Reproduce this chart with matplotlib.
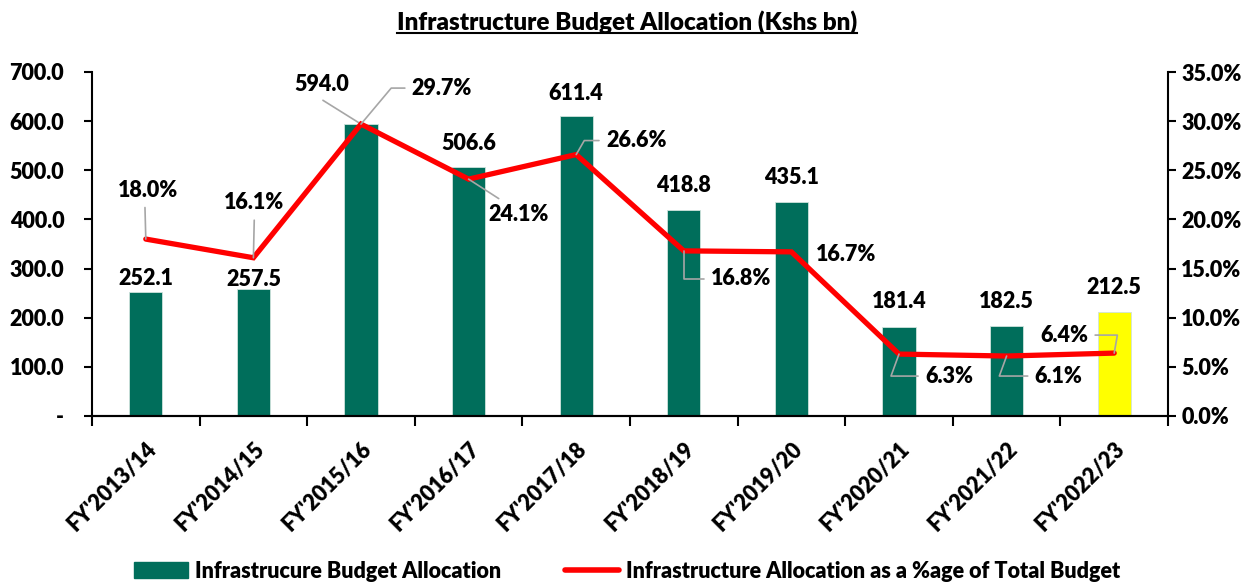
import matplotlib
matplotlib.use("Agg")
import matplotlib.pyplot as plt
from matplotlib.patches import Patch
from matplotlib.lines import Line2D
from matplotlib.ticker import FuncFormatter, MultipleLocator
import numpy as np

plt.rcParams['font.family'] = ['Lato', 'DejaVu Sans']
W = 'heavy'
plt.rcParams['font.weight'] = W

categories = ["FY'2013/14", "FY'2014/15", "FY'2015/16", "FY'2016/17", "FY'2017/18",
              "FY'2018/19", "FY'2019/20", "FY'2020/21", "FY'2021/22", "FY'2022/23"]
allocation = [252.1, 257.5, 594.0, 506.6, 611.4, 418.8, 435.1, 181.4, 182.5, 212.5]
share_pct = [18.0, 16.1, 29.7, 24.1, 26.6, 16.8, 16.7, 6.3, 6.1, 6.4]

GREEN = '#006E5B'
YELLOW = '#FFFF00'
RED = '#FF0000'
GREY = '#A6A6A6'
FS = 15.5

fig = plt.figure(figsize=(12.54, 5.82), dpi=100)
ax = fig.add_axes([92/1254, 1-416/582, (1168-92)/1254, (416-72)/582])
ax2 = ax.twinx()

x = np.arange(len(categories))
colors = [GREEN]*(len(categories)-1) + [YELLOW]
bars = ax.bar(x, allocation, width=0.31, color=colors, edgecolor='#CFE3DD', linewidth=0.6, zorder=2)
ax.set_xlim(-0.5, len(categories)-0.5)
ax.set_ylim(0, 700)
ax.yaxis.set_major_locator(MultipleLocator(100))
ax.yaxis.set_major_formatter(FuncFormatter(lambda v, p: '-' if v == 0 else f'{v:.1f}'))

ax2.set_ylim(0, 35)
ax2.yaxis.set_major_locator(MultipleLocator(5))
ax2.yaxis.set_major_formatter(FuncFormatter(lambda v, p: f'{v:.1f}%'))
ax2.plot(x, share_pct, color=RED, lw=3.8, solid_capstyle='round', solid_joinstyle='miter', zorder=3)

for a in (ax, ax2):
    a.spines['top'].set_visible(False)
    for s in ('left', 'right', 'bottom'):
        a.spines[s].set_linewidth(1.5)
        a.spines[s].set_color('black')
    a.tick_params(axis='y', labelsize=FS, width=1.5, length=6, direction='out')
ax.tick_params(axis='y', pad=14)
ax.spines['right'].set_visible(False)
ax2.spines['left'].set_visible(False)

ax.set_xticks(x)
ax.set_xticklabels(categories, rotation=45, ha='right', rotation_mode='anchor', fontsize=FS, fontweight=W)
ax.tick_params(axis='x', which='major', length=0, pad=16)
ax.set_xticks(np.arange(-0.5, len(categories), 1), minor=True)
ax.tick_params(axis='x', which='minor', length=7, width=1.5, direction='out')
for lab in ax.get_yticklabels() + ax2.get_yticklabels():
    lab.set_fontweight(W)

# bar value labels (dx, dy offsets in pixels from bar top)
bar_offsets = [(0, 14), (0, 10), (-39, 40), (0, 24), (0, 22), (0, 25), (0, 25), (0, 25), (0, 25), (0, 24)]
for i, (v, (dx, dy)) in enumerate(zip(allocation, bar_offsets)):
    if i == 2:
        ax.annotate(f'{v:.1f}', xy=(i, v), xytext=(dx, dy), textcoords='offset pixels',
                    ha='center', va='center', fontsize=FS, fontweight=W,
                    arrowprops=dict(arrowstyle='-', color=GREY, lw=1.2, shrinkA=4, shrinkB=0,
                                    relpos=(0.35, 0.0)))
    else:
        ax.annotate(f'{v:.1f}', xy=(i, v), xytext=(dx, dy), textcoords='offset pixels',
                    ha='center', va='center', fontsize=FS, fontweight=W)

# percentage labels with leader lines
pct_offsets = [(2, 49), (1, 55), (81, 36), (50, -35), (60, 14), (57, -28), (55, -3), (50, -22), (52, -20), (-50, 18)]
relpos = [(0.45, 0.0), (0.5, 0.0), (0.0, 0.5), (0.3, 1.0), (0.0, 0.5), (0.0, 0.5), None, (0.0, 0.5), (0.0, 0.5), (1.0, 0.5)]
conn = ['arc3', 'arc3', 'angle,angleA=0,angleB=50,rad=0', 'arc3', 'angle,angleA=0,angleB=60,rad=0',
        'angle,angleA=0,angleB=90,rad=0', 'arc3', 'angle,angleA=0,angleB=70,rad=0',
        'angle,angleA=0,angleB=70,rad=0', 'angle,angleA=180,angleB=80,rad=0']
for i, (v, (dx, dy)) in enumerate(zip(share_pct, pct_offsets)):
    kw = {}
    if relpos[i] is not None:
        kw['arrowprops'] = dict(arrowstyle='-', color=GREY, lw=1.2, shrinkA=3, shrinkB=0,
                                relpos=relpos[i], connectionstyle=conn[i])
    ax2.annotate(f'{v:.1f}%', xy=(i, v), xytext=(dx, dy), textcoords='offset pixels',
                 ha='center', va='center', fontsize=FS, fontweight=W, zorder=5, **kw)

# title with underline
title = fig.text(0.5, 1-22/582, 'Infrastructure Budget Allocation (Kshs bn)', ha='center', va='center',
                 fontsize=17.5, fontweight=W)
fig.canvas.draw()
bb = title.get_window_extent().transformed(fig.transFigure.inverted())
fig.add_artist(Line2D([bb.x0, bb.x1], [bb.y0 + 0.002, bb.y0 + 0.002], color='black', lw=1.5,
                      transform=fig.transFigure))

handles = [Patch(facecolor=GREEN, edgecolor=GREEN),
           Line2D([0], [0], color=RED, lw=4, solid_capstyle='round')]
labels = ['Infrastrucure Budget Allocation', 'Infrastructure Allocation as a %age of Total Budget']
leg = fig.legend(handles, labels, loc='center', bbox_to_anchor=(0.5, 1-571/582), ncol=2, frameon=False,
                 prop={'size': FS, 'weight': W}, columnspacing=3.0, handlelength=2.5,
                 handletextpad=0.3, borderaxespad=0)

fig.savefig('out.png', dpi=100)
